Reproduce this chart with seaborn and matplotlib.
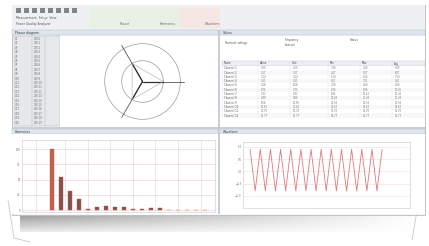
import numpy as np
import pandas as pd
import matplotlib
matplotlib.use("Agg")
import matplotlib.pyplot as plt
from matplotlib.patches import Rectangle
import seaborn as sns

sns.set_theme(style="white")
plt.rcParams["font.family"] = ["DejaVu Sans"]

# ---- data ----
harmonic_order = list(range(1, 19))
harmonic_pct = [100, 55, 31, 19, 2, 6, 7, 5, 5, 2, 2, 3, 3, 1, 1, 1, 1, 1]

wave_x = list(range(27))
wave_y = [0.9, -0.8, 0.9, -0.8, 0.9, -0.8, 0.9, -0.8, 0.9, -0.8, 0.9, -0.8, 0.9,
          -0.8, 0.9, -0.8, 0.9, -0.8, 0.9, -0.8, 0.9, -0.8, 0.9, -0.8, 0.9, -0.8, 0.9]

phasor_angle = [0, 120, 240]
phasor_mag = [1.0, 1.0, 1.0]
current_angle = [0, 120, 240]
current_mag = [0.55, 0.55, 0.55]

table_cols = ["Name", "Value", "Unit", "Min", "Max", "Avg"]
table_rows = 12

W, H = 429, 246


def box(x0, y0, x1, y1):
    # pixel box (top-left origin) -> figure fraction rect
    return [x0 / W, 1 - y1 / H, (x1 - x0) / W, (y1 - y0) / H]


fig = plt.figure(figsize=(W / 100, H / 100), dpi=100)
fig.patch.set_facecolor("white")

# background layer for frame, toolbar, shadow
bg = fig.add_axes([0, 0, 1, 1])
bg.set_xlim(0, W)
bg.set_ylim(H, 0)
bg.axis("off")

# shadow under the window
grad = np.linspace(0, 1, 200)[None, :]
shade = np.tile(grad, (20, 1))
vert = np.linspace(1, 0.2, 20)[:, None]
alpha_img = np.clip((1 - shade) * vert, 0, 1)
rgba = np.zeros((20, 200, 4))
rgba[..., :3] = 0.55
rgba[..., 3] = alpha_img * 0.9
bg.imshow(rgba, extent=(20, 420, 232, 214), aspect="auto", zorder=0)
bg.plot([8, 14, 30], [200, 238, 242], color="#c8c8c8", lw=0.6)
bg.plot([418, 412], [205, 240], color="#c8c8c8", lw=0.6)

# window frame
bg.add_patch(Rectangle((12, 5), 413, 210, facecolor="#f4f5f7", edgecolor="#b9bcc2", lw=0.6, zorder=1))
# toolbar
bg.add_patch(Rectangle((12, 5), 413, 25, facecolor="#eef0f2", edgecolor="none", zorder=2))
bg.add_patch(Rectangle((90, 8), 90, 20, facecolor="#e8f1e4", edgecolor="none", zorder=2))
bg.add_patch(Rectangle((180, 8), 40, 20, facecolor="#f6e7e2", edgecolor="none", zorder=2))
for i in range(8):
    bg.add_patch(Rectangle((16 + i * 8, 8), 5, 5, facecolor="#7d8590", edgecolor="none", zorder=3))
bg.text(16, 19, "Measurement  Setup  View", fontsize=2.2, color="#555", zorder=3)
bg.text(16, 25, "Power Quality Analyzer", fontsize=2.2, color="#555", zorder=3)
for xx, lab in [(120, "Phasor"), (160, "Harmonics"), (205, "Waveform")]:
    bg.text(xx, 25, lab, fontsize=2.2, color="#666", zorder=3)
# panel title bars
for x0, x1, y0, lab in [(12, 218, 30, "Phasor diagram"), (220, 425, 30, "Values"),
                        (12, 218, 129, "Harmonics"), (220, 425, 129, "Waveform")]:
    bg.add_patch(Rectangle((x0, y0), x1 - x0, 5, facecolor="#dfe6ef", edgecolor="#aeb8c6", lw=0.3, zorder=2))
    bg.text(x0 + 3, y0 + 3.8, lab, fontsize=2.2, color="#333", zorder=3)

# top-left small table
bg.add_patch(Rectangle((14, 36), 46, 90, facecolor="#e6e8eb", edgecolor="#b0b4ba", lw=0.3, zorder=2))
for r in range(20):
    y = 37 + r * 4.4
    bg.text(15, y + 3, "U%d" % (r + 1), fontsize=1.8, color="#666", zorder=3)
    bg.text(34, y + 3, "230.%d" % r, fontsize=1.8, color="#666", zorder=3)
for xx in [32, 45]:
    bg.plot([xx, xx], [36, 126], color="#b0b4ba", lw=0.3, zorder=3)
bg.add_patch(Rectangle((60, 36), 158, 92, facecolor="white", edgecolor="none", zorder=2))

# top-right table
bg.add_patch(Rectangle((220, 36), 205, 92, facecolor="white", edgecolor="none", zorder=2))
bg.text(225, 44, "Nominal voltage", fontsize=2.0, color="#555", zorder=3)
bg.text(285, 41, "Frequency", fontsize=2.0, color="#555", zorder=3)
bg.text(285, 46, "Interval", fontsize=2.0, color="#555", zorder=3)
bg.text(350, 41, "Status", fontsize=2.0, color="#555", zorder=3)
col_x = [222, 258, 290, 328, 360, 392, 425]
bg.add_patch(Rectangle((222, 61), 203, 5, facecolor="#eceef1", edgecolor="#c3c7cd", lw=0.3, zorder=3))
for c, lab in enumerate(table_cols):
    bg.text(col_x[c] + 2, 64.5, lab, fontsize=1.9, color="#444", zorder=4)
for r in range(table_rows):
    y = 66 + r * 4.3
    fc = "#f7f8fa" if r % 2 else "white"
    bg.add_patch(Rectangle((222, y), 203, 4.3, facecolor=fc, edgecolor="none", zorder=3))
    bg.text(224, y + 3.3, "Channel %d" % (r + 1), fontsize=1.8, color="#555", zorder=4)
    for c in range(1, 6):
        bg.text(col_x[c] + 3, y + 3.3, "%d.%02d" % (r + c, r * 7 % 100), fontsize=1.8, color="#777", zorder=4)
for xx in col_x:
    bg.plot([xx, xx], [61, 118], color="#dde0e4", lw=0.3, zorder=4)

# bottom panels background
bg.add_patch(Rectangle((12, 134), 206, 80, facecolor="white", edgecolor="none", zorder=2))
bg.add_patch(Rectangle((220, 134), 205, 80, facecolor="white", edgecolor="none", zorder=2))
bg.add_patch(Rectangle((218, 30), 2, 184, facecolor="#c9ced6", edgecolor="none", zorder=2))
bg.add_patch(Rectangle((12, 127), 413, 2, facecolor="#c9ced6", edgecolor="none", zorder=2))

# ---- phasor diagram ----
ax_p = fig.add_axes(box(95, 38, 190, 125), projection="polar")
ax_p.set_facecolor("none")
ax_p.set_ylim(0, 1.15)
ax_p.set_yticks([0.55, 1.0])
ax_p.set_yticklabels([])
ax_p.set_xticks([])
ax_p.grid(True, color="#9a9a9a", lw=0.5)
ax_p.spines["polar"].set_visible(False)
for a, m in zip(phasor_angle, phasor_mag):
    ax_p.plot([np.deg2rad(a), np.deg2rad(a)], [0, m * 1.1], color="#555", lw=0.6)
for a, m in zip(current_angle, current_mag):
    ax_p.plot([np.deg2rad(a), np.deg2rad(a)], [0, m], color="#333", lw=0.9)
ax_p.plot(np.deg2rad(current_angle + [current_angle[0]]),
          current_mag + [current_mag[0]], color="#aaa", lw=0.4)

# ---- harmonics bar chart ----
ax_h = fig.add_axes(box(22, 140, 215, 212))
hdf = pd.DataFrame({"order": harmonic_order, "pct": harmonic_pct})
colors = ["#d2553a"] + ["#8a4a48"] * (len(harmonic_order) - 1)
sns.barplot(data=hdf, x="order", y="pct", hue="order", palette=colors,
            legend=False, width=0.4, ax=ax_h, edgecolor="#c45a40", linewidth=0.3)
ax_h.set_xlim(-3.3, 18.1)
ax_h.set_ylim(-3, 115)
ax_h.set_xlabel("")
ax_h.set_ylabel("")
ax_h.tick_params(labelsize=2, length=0, pad=1, colors="#777")
ax_h.set_xticks([])
ax_h.set_yticks([0, 25, 50, 75, 100])
ax_h.grid(axis="y", color="#f0c8c8", lw=0.4)
for xv in [-1.7, 1.5, 4.0, 6.5, 9.0, 11.5, 14.0, 16.5]:
    ax_h.axvline(xv, color="#d9d9d9", lw=0.4, zorder=0)
for s in ax_h.spines.values():
    s.set_color("#c8c8c8")
    s.set_linewidth(0.4)

# ---- waveform ----
ax_w = fig.add_axes(box(243, 142, 410, 208))
wdf = pd.DataFrame({"t": wave_x, "v": wave_y})
sns.lineplot(data=wdf, x="t", y="v", color="#e07a7a", lw=0.6, ax=ax_w)
ax_w.set_xlim(-1.4, 31.5)
ax_w.set_ylim(-1.5, 1.2)
ax_w.set_xlabel("")
ax_w.set_ylabel("")
ax_w.set_xticks([])
ax_w.set_yticks([-1, -0.5, 0, 0.5, 1])
ax_w.tick_params(labelsize=2, length=0, pad=1, colors="#777")
ax_w.grid(axis="y", color="#f3dada", lw=0.4)
for s in ax_w.spines.values():
    s.set_color("#c8c8c8")
    s.set_linewidth(0.4)

fig.savefig("out.png", dpi=100)
